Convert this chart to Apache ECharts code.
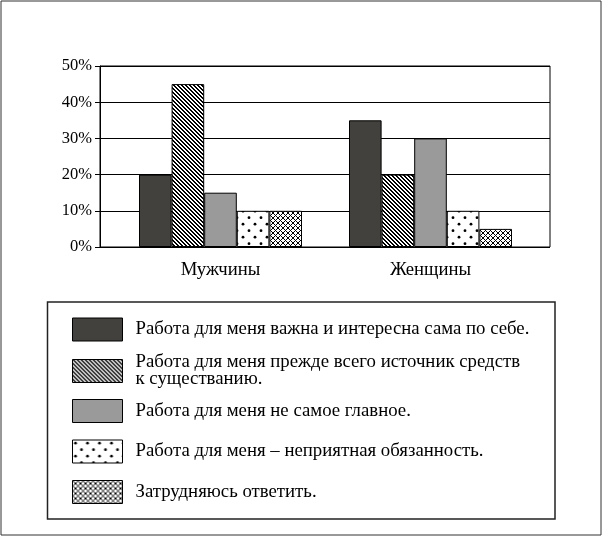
<!DOCTYPE html>
<html>
<head>
<meta charset="utf-8">
<script src="https://cdn.jsdelivr.net/npm/echarts@6/dist/echarts.min.js"></script>
<style>
html,body{margin:0;padding:0;background:#fff;}
#chart{width:603px;height:537px;}
</style>
</head>
<body>
<div id="chart"></div>
<script>
const categories = ['Мужчины', 'Женщины'];
const seriesNames = [
  'Работа для меня важна и интересна сама по себе.',
  'Работа для меня прежде всего источник средств\nк существанию.',
  'Работа для меня не самое главное.',
  'Работа для меня – неприятная обязанность.',
  'Затрудняюсь ответить.'
];
const importantInteresting = [20, 35];
const sourceOfMeans = [45, 20];
const notMain = [15, 30];
const unpleasantDuty = [10, 10];
const hardToSay = [10, 5];
const yTickValues = [0, 10, 20, 30, 40, 50];

const FONT = "'Liberation Serif', 'Times New Roman', serif";

function pixelTile(w, h, fn) {
  const c = document.createElement('canvas');
  c.width = w; c.height = h;
  const ctx = c.getContext('2d');
  const img = ctx.createImageData(w, h);
  for (let y = 0; y < h; y++) {
    for (let x = 0; x < w; x++) {
      const v = fn(x, y) ? 0 : 255;
      const i = (y * w + x) * 4;
      img.data[i] = v; img.data[i + 1] = v; img.data[i + 2] = v; img.data[i + 3] = 255;
    }
  }
  ctx.putImageData(img, 0, 0);
  return c;
}
function mod(a, n) { return ((a % n) + n) % n; }

const stripeTile = pixelTile(4, 4, (x, y) => mod(x - y, 4) < 2);
const crossTile = pixelTile(5, 5, (x, y) => mod(x - y, 5) === 0 || mod(x + y, 5) === 0);
const dotTile = (function () {
  const c = document.createElement('canvas');
  c.width = 12; c.height = 13;
  const ctx = c.getContext('2d');
  ctx.fillStyle = '#fff';
  ctx.fillRect(0, 0, 12, 13);
  ctx.fillStyle = '#000';
  [[3, 3.2], [9, 9.7]].forEach(p => {
    ctx.beginPath();
    ctx.arc(p[0], p[1], 1.4, 0, Math.PI * 2);
    ctx.fill();
  });
  return c;
})();

const fills = [
  '#42413d',
  { image: stripeTile, repeat: 'repeat' },
  '#9a9a9a',
  { image: dotTile, repeat: 'repeat' },
  { image: crossTile, repeat: 'repeat' }
];
const seriesData = [importantInteresting, sourceOfMeans, notMain, unpleasantDuty, hardToSay];
const legendTops = [317.5, 353, 399, 439.5, 480];

const chart = echarts.init(document.getElementById('chart'), null, { renderer: 'canvas' });

const option = {
  animation: false,
  backgroundColor: '#fff',
  textStyle: { fontFamily: FONT },
  grid: [
    { left: 100, right: 53, top: 66, bottom: 290, show: true, borderColor: '#000', borderWidth: 1, backgroundColor: 'transparent' },
    { left: 115.5, right: 67.5, top: 66, bottom: 290 }
  ],
  xAxis: [
    { gridIndex: 0, type: 'category', data: categories, show: false },
    {
      gridIndex: 1, type: 'category', data: categories,
      axisLine: { show: false }, axisTick: { show: false },
      axisLabel: { color: '#000', fontFamily: FONT, fontSize: 18.7, margin: 14 }
    }
  ],
  yAxis: [
    {
      gridIndex: 0, type: 'value', min: 0, max: 50, interval: 10,
      axisLine: { show: true, lineStyle: { color: '#000', width: 1 } },
      axisTick: { show: true, length: 5, lineStyle: { color: '#000', width: 1 } },
      splitLine: { show: true, lineStyle: { color: '#000', width: 1 } },
      axisLabel: {
        color: '#000', fontFamily: FONT, fontSize: 16.5, margin: 8,
        formatter: v => (yTickValues.indexOf(v) >= 0 ? v + '%' : '')
      }
    },
    { gridIndex: 1, type: 'value', min: 0, max: 50, interval: 10, show: false }
  ],
  legend: seriesNames.map((name, i) => ({
    data: [name],
    left: 72,
    top: legendTops[i],
    orient: 'vertical',
    padding: 0,
    itemWidth: 50,
    itemHeight: 23,
    icon: 'rect',
    selectedMode: false,
    itemStyle: { borderColor: '#000', borderWidth: 1 },
    textStyle: { color: '#000', fontFamily: FONT, fontSize: 18.8, lineHeight: 17, padding: [0, 0, 0, 8] }
  })),
  series: seriesNames.map((name, i) => ({
    name: name,
    type: 'bar',
    xAxisIndex: 1,
    yAxisIndex: 1,
    data: seriesData[i],
    barWidth: 32.6,
    barGap: '0%',
    itemStyle: { color: fills[i], borderColor: '#000', borderWidth: 1 }
  })),
  graphic: [
    { type: 'rect', shape: { x: 1, y: 1, width: 600, height: 534 }, style: { fill: null, stroke: '#333', lineWidth: 1 }, silent: true },
    { type: 'rect', shape: { x: 47.5, y: 302, width: 507.5, height: 217 }, style: { fill: null, stroke: '#222', lineWidth: 1.5 }, silent: true }
  ]
};
chart.setOption(option);
</script>
</body>
</html>
